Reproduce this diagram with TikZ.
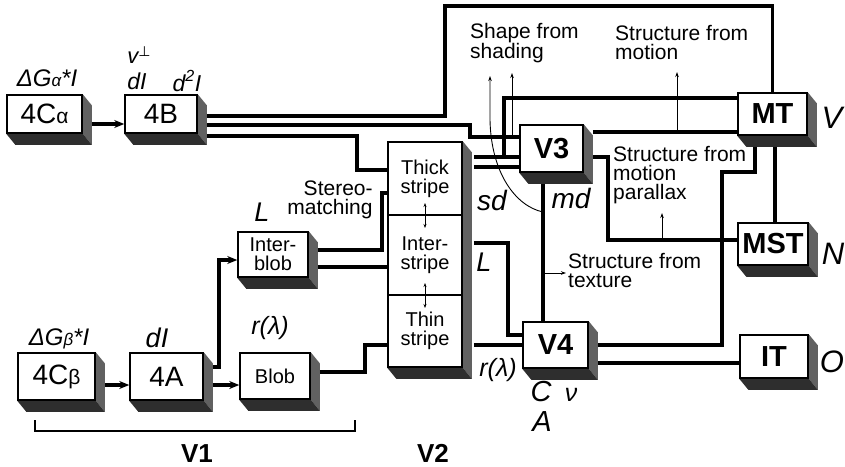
\documentclass[tikz,border=0pt]{standalone}
\usepackage{fontspec}
\setmainfont{Liberation Sans}
\newfontfamily\djv{DejaVu Sans}
\usetikzlibrary{calc,arrows.meta,backgrounds}
\newcommand\shd[3]{%
  \fill[sidef] (#1.north east) -- ++(9,11) -- ($(#2.south east)+(9,11)$) -- (#2.south east) -- cycle;
  \fill[botf] (#3.south west) -- (#2.south east) -- ($(#2.south east)+(9,11)$) -- ($(#3.south west)+(9,11)$) -- cycle;}
\begin{document}
\begin{tikzpicture}[x=1pt,y=-1pt,
  box/.style={draw, line width=1.5pt, fill=white, inner sep=0pt, align=center},
  mid/.style={font=\fontsize{28}{28}\selectfont},
  bld/.style={font=\bfseries\fontsize{29}{29}\selectfont},
  sml/.style={font=\fontsize{20}{19}\selectfont},
  txt/.style={font=\fontsize{21}{19}\selectfont, inner sep=0pt, align=left, anchor=west},
  lab/.style={font=\itshape\fontsize{25}{25}\selectfont, inner sep=0pt},
  sidef/.style={fill=black!62},
  botf/.style={fill=black!82},
  ln/.style={line width=3.2pt},
  tip/.style={-{Stealth[length=10pt,width=8pt]}},
  tarr/.style={line width=0.9pt, -{Stealth[length=5pt,width=3.5pt]}},
  darr/.style={line width=0.9pt, {Stealth[length=4pt,width=3pt]}-{Stealth[length=4pt,width=3pt]}}]
\useasboundingbox (0,0) rectangle (845,466);
% boxes
\node[box, mid, minimum width=75pt, minimum height=38pt] (c4a) at (44.5,114) {4C{\fontsize{21}{21}\selectfont α}};
\node[box, mid, minimum width=72pt, minimum height=38pt] (b4) at (161,114) {4B};
\node[box, mid, minimum width=77pt, minimum height=47pt] (c4b) at (56.5,376.5) {4C{\fontsize{21}{21}\selectfont β}};
\node[box, mid, minimum width=73pt, minimum height=47pt] (a4) at (166.5,376.5) {4A};
\node[box, sml, minimum width=70pt, minimum height=46pt] (blob) at (275,376) {Blob};
\node[box, sml, minimum width=70pt, minimum height=45pt] (iblob) at (273,254.5) {Inter-\\blob};
\node[box, sml, minimum width=74pt, minimum height=73pt] (sA) at (425,178.5) {Thick\\stripe};
\node[box, sml, minimum width=74pt, minimum height=80pt] (sB) at (425,255) {Inter-\\stripe};
\node[box, sml, minimum width=74pt, minimum height=72pt] (sC) at (425,331) {Thin\\stripe};
\node[box, bld, minimum width=63pt, minimum height=47pt] (v3) at (551.5,148.5) {V3};
\node[box, bld, minimum width=65pt, minimum height=46pt] (v4) at (555.5,345) {V4};
\node[box, bld, minimum width=69pt, minimum height=42pt] (mt) at (772.5,114) {MT};
\node[box, bld, minimum width=70pt, minimum height=42pt] (mst) at (773,244) {MST};
\node[box, bld, minimum width=68pt, minimum height=43pt] (it) at (774,356.5) {IT};
\begin{scope}[on background layer]
\shd{c4a}{c4a}{c4a}
\shd{b4}{b4}{b4}
\shd{c4b}{c4b}{c4b}
\shd{a4}{a4}{a4}
\shd{blob}{blob}{blob}
\shd{iblob}{iblob}{iblob}
\shd{sA}{sC}{sC}
\shd{v3}{v3}{v3}
\shd{v4}{v4}{v4}
\shd{mt}{mt}{mt}
\shd{mst}{mst}{mst}
\shd{it}{it}{it}
\end{scope}
% stripe arrows
\draw[darr] (425,203) -- (425,228);
\draw[darr] (425,283) -- (425,308);
% V1 connectors
\draw[ln, tip] ($(c4a.east)+(9,10)$) -- ($(b4.west)+(0,10)$);
\draw[ln, tip] ($(c4b.east)+(9,8.5)$) -- ($(a4.west)+(0,8.5)$);
\draw[ln, tip] ($(a4.east)+(9,8.5)$) -- ($(blob.west)+(0,9)$);
\draw[ln, tip] ($(a4.east)+(9,-9.5)$) -- (219,367) -- (219,260) -- ($(iblob.west)+(0,5.5)$);
\draw[ln] ($(b4.east)+(9,2)$) -- (445,116) -- (445,6) -| (mt.north);
\draw[ln] ($(b4.east)+(9,11)$) -- (470,125) -- (470,137) -- ($(v3.west)+(0,-11.5)$);
\draw[ln] ($(b4.east)+(9,22)$) -- (357,136) -- (357,170) -- ($(sA.west)+(0,-8.5)$);
\draw[ln] ($(iblob.east)+(9,-4.5)$) -- (382,250) -- (382,193) -- ($(sA.west)+(0,14.5)$);
\draw[ln] ($(iblob.east)+(9,12.5)$) -- ($(sB.west)+(0,12)$);
\draw[ln] ($(blob.east)+(9,-4)$) -- (365,372) -- (365,345) -- ($(sC.west)+(0,14)$);
% V2 -> higher
\draw[ln] ($(sA.east)+(11,-21.5)$) -- ($(v3.west)+(0,8.5)$);
\draw[ln] ($(sA.east)+(11,-11.5)$) -- ($(v3.west)+(0,18.5)$);
\draw[ln] (504,157) -- (504,98) -- ($(mt.west)+(0,-16)$);
\draw[ln] ($(sB.east)+(11,-12)$) -- (508,243) -- (508,335) -- ($(v4.west)+(0,-10)$);
\draw[ln] ($(sC.east)+(11,14)$) -- (v4.west);
% V3
\draw[ln] ($(v3.east)+(9,-16.5)$) -- ($(mt.west)+(0,18)$);
\draw[ln] ($(v3.east)+(9,8.5)$) -- (608,157) -- (608,240) -- ($(mst.west)+(0,-4)$);
\draw[ln] ($(v3.south)+(-8.5,11)$) -- ($(v4.north)+(-12.5,0)$);
% MT
\draw[ln] ($(mt.south)+(2.5,11)$) -- ($(mst.north)+(2,0)$);
\draw[ln] ($(mt.south)+(-17.5,11)$) -- (755,172) -- (722,172) -- (722,345) -- ($(v4.east)+(9,0)$);
\draw[ln] ($(v4.east)+(9,18)$) -- ($(it.west)+(0,6.5)$);
% thin arrows
\draw[tarr] (512,137) -- (512,73);
\draw[tarr] (543,212) .. controls (515,206) and (491,172) .. (490,120) -- (490,76);
\draw[tarr] (677,132) -- (677,72);
\draw[tarr] (662,240) -- (662,213);
\draw[tarr] (543,273) -- (566,273);
% bracket
\draw[line width=1.2pt] (35,420) -- (35,431) -- (355,431) -- (355,420);
% texts
\node[txt] (t1) at (470,43) {Shape from\\shading};
\node[txt] (t2) at (615,43) {Structure from\\motion};
\node[txt] (t3) at (613,175) {Structure from\\motion\\parallax};
\node[txt] (t4) at (568,270) {Structure from\\texture};
\node[font=\fontsize{21}{19}\selectfont, inner sep=0pt, align=right] (t5) at (330,200) {Stereo-\\matching};
\node[lab, font=\itshape\fontsize{24}{24}\selectfont] (l1) at (47,78) {ΔG{\fontsize{17}{17}\selectfont α}*I};
\node[lab, font=\itshape\fontsize{24}{24}\selectfont] (l2) at (59,339) {ΔG{\fontsize{17}{17}\selectfont β}*I};
\node[lab, font=\itshape\fontsize{22}{22}\selectfont] (l3) at (139,55) {v{\djv\fontsize{14}{14}\selectfont\raisebox{0.5em}{⊥}}};
\node[lab, font=\itshape\fontsize{23}{23}\selectfont] (l4) at (137,81) {dI};
\node[lab, font=\itshape\fontsize{23}{23}\selectfont] (l5) at (187,81) {d\textsuperscript{2}I};
\node[lab, font=\itshape\fontsize{27}{27}\selectfont] (l6) at (157,338) {dI};
\node[lab, font=\itshape\fontsize{27}{27}\selectfont] (l7) at (262,212) {L};
\node[lab] (l8) at (270,328) {r(λ)};
\node[lab, font=\itshape\fontsize{28}{28}\selectfont] (l9) at (492,200) {sd};
\node[lab, font=\itshape\fontsize{28}{28}\selectfont] (l10) at (571,198) {md};
\node[lab, font=\itshape\fontsize{27}{27}\selectfont] (l11) at (484,262) {L};
\node[lab] (l12) at (498,370) {r(λ)};
\node[lab, font=\itshape\fontsize{29}{29}\selectfont] (l13) at (541,392) {C};
\node[lab, font=\itshape\fontsize{25}{25}\selectfont] (l14) at (571,395) {ν};
\node[lab, font=\itshape\fontsize{29}{29}\selectfont] (l15) at (542,422) {A};
\node[lab, font=\itshape\fontsize{31}{31}\selectfont] (l16) at (832,118) {V};
\node[lab, font=\itshape\fontsize{31}{31}\selectfont] (l17) at (833,254) {N};
\node[lab, font=\itshape\fontsize{31}{31}\selectfont] (l18) at (832,362) {O};
\node[font=\bfseries\fontsize{26}{26}\selectfont, inner sep=0pt, anchor=base] (v1) at (197,462) {V1};
\node[font=\bfseries\fontsize{26}{26}\selectfont, inner sep=0pt, anchor=base] (v2) at (433,462) {V2};
\end{tikzpicture}
\end{document}
